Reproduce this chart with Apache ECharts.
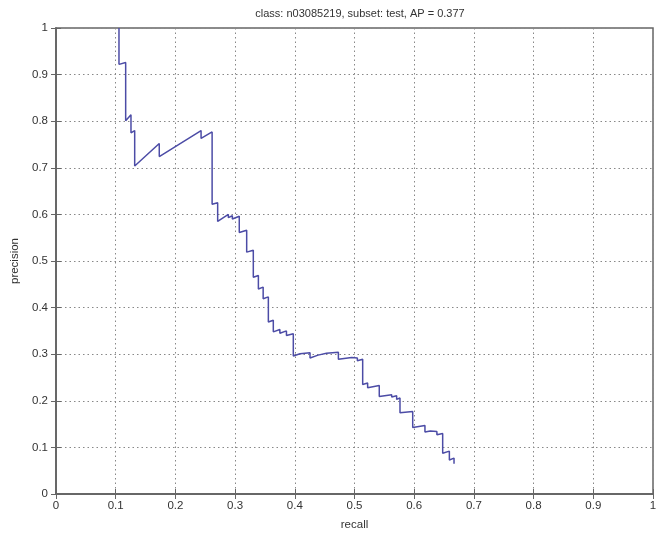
<!DOCTYPE html>
<html>
<head>
<meta charset="utf-8">
<script src="https://cdn.jsdelivr.net/npm/echarts@6/dist/echarts.min.js"></script>
<style>
  html, body { margin: 0; padding: 0; background: #fff; }
  #main { width: 666px; height: 536px; }
</style>
</head>
<body>
<div id="main"></div>
<script>
var chartTitle = 'class: n03085219, subset: test, AP = 0.377';
// recall / precision pairs
var recall = [
  0.1055, 0.1055, 0.1167, 0.1167, 0.1256, 0.1256, 0.1318, 0.1318,
  0.173, 0.173, 0.243, 0.243, 0.2615, 0.2615, 0.2708, 0.2708,
  0.2887, 0.2887, 0.2954, 0.2954, 0.307, 0.307, 0.3194, 0.3194,
  0.3305, 0.3305, 0.339, 0.339, 0.347, 0.347, 0.3557, 0.3557,
  0.364, 0.364, 0.375, 0.375, 0.386, 0.386, 0.3975, 0.3975,
  0.4087, 0.4087, 0.4255, 0.4255, 0.439, 0.439, 0.453, 0.453,
  0.473, 0.473, 0.4953, 0.4953, 0.5048, 0.5048, 0.5137, 0.5137,
  0.522, 0.522, 0.5415, 0.5415, 0.5623, 0.5623, 0.5706, 0.5706,
  0.5762, 0.5762, 0.5975, 0.5975, 0.618, 0.618, 0.627, 0.627,
  0.638, 0.638, 0.6477, 0.6477, 0.6589, 0.6589, 0.6667, 0.6667
];
var precision = [
  1.0, 0.922, 0.926, 0.801, 0.814, 0.775, 0.780, 0.704,
  0.752, 0.724, 0.780, 0.763, 0.777, 0.622, 0.625, 0.585,
  0.600, 0.593, 0.597, 0.590, 0.596, 0.561, 0.566, 0.519,
  0.523, 0.465, 0.469, 0.440, 0.444, 0.419, 0.423, 0.369,
  0.373, 0.348, 0.353, 0.345, 0.350, 0.340, 0.344, 0.296,
  0.301, 0.298, 0.303, 0.292, 0.298, 0.295, 0.302, 0.299,
  0.304, 0.289, 0.293, 0.290, 0.292, 0.286, 0.289, 0.235,
  0.238, 0.228, 0.233, 0.209, 0.213, 0.208, 0.211, 0.203,
  0.206, 0.1745, 0.177, 0.1425, 0.147, 0.133, 0.135, 0.131,
  0.134, 0.127, 0.130, 0.0876, 0.092, 0.073, 0.077, 0.065
];
var tickLabels = ['0', '0.1', '0.2', '0.3', '0.4', '0.5', '0.6', '0.7', '0.8', '0.9', '1'];

var curve = recall.map(function (r, i) { return [r, precision[i]]; });

var chart = echarts.init(document.getElementById('main'));
var font = 'Liberation Sans';
var frameColor = '#666';
var labelFmt = function (v) { return tickLabels[Math.round(v * 10)]; };

var option = {
  backgroundColor: '#fff',
  animation: false,
  title: {
    text: chartTitle,
    left: 355,
    top: 3,
    textAlign: 'center',
    textStyle: { fontFamily: font, fontSize: 11, fontWeight: 'normal', color: '#333' }
  },
  grid: {
    left: 56, top: 28, right: 13, bottom: 40,
    show: true, borderColor: frameColor, borderWidth: 1.5
  },
  xAxis: [
    {
      type: 'value', min: 0, max: 1, interval: 0.1,
      name: 'recall', nameLocation: 'middle', nameGap: 25,
      nameTextStyle: { fontFamily: font, fontSize: 11.5, color: '#333' },
      axisLine: { show: true, lineStyle: { color: frameColor, width: 1.5 } },
      axisTick: { inside: true, length: 5, lineStyle: { color: frameColor } },
      axisLabel: { fontFamily: font, fontSize: 11.5, color: '#333', margin: 6, formatter: labelFmt },
      splitLine: { show: true, lineStyle: { type: [1.5, 3], color: '#888', width: 1 } }
    },
    {
      type: 'value', min: 0, max: 1, interval: 0.1, position: 'top',
      axisLine: { show: true, lineStyle: { color: frameColor, width: 1.5 } },
      axisTick: { inside: true, length: 5, lineStyle: { color: frameColor } },
      axisLabel: { show: false },
      splitLine: { show: false }
    }
  ],
  yAxis: [
    {
      type: 'value', min: 0, max: 1, interval: 0.1,
      name: 'precision', nameLocation: 'middle', nameGap: 34, nameRotate: 90,
      nameTextStyle: { fontFamily: font, fontSize: 11.5, color: '#333' },
      axisLine: { show: true, lineStyle: { color: frameColor, width: 1.5 } },
      axisTick: { inside: true, length: 5, lineStyle: { color: frameColor } },
      axisLabel: { fontFamily: font, fontSize: 11.5, color: '#333', margin: 8, formatter: labelFmt },
      splitLine: { show: true, lineStyle: { type: [1.5, 3], color: '#888', width: 1 } }
    },
    {
      type: 'value', min: 0, max: 1, interval: 0.1, position: 'right',
      axisLine: { show: true, lineStyle: { color: frameColor, width: 1.5 } },
      axisTick: { inside: true, length: 5, lineStyle: { color: frameColor } },
      axisLabel: { show: false },
      splitLine: { show: false }
    }
  ],
  series: [
    {
      name: 'PR',
      type: 'line',
      data: curve,
      showSymbol: false,
      clip: true,
      lineStyle: { color: '#4c4ca6', width: 1.5 }
    }
  ]
};
chart.setOption(option);
</script>
</body>
</html>
